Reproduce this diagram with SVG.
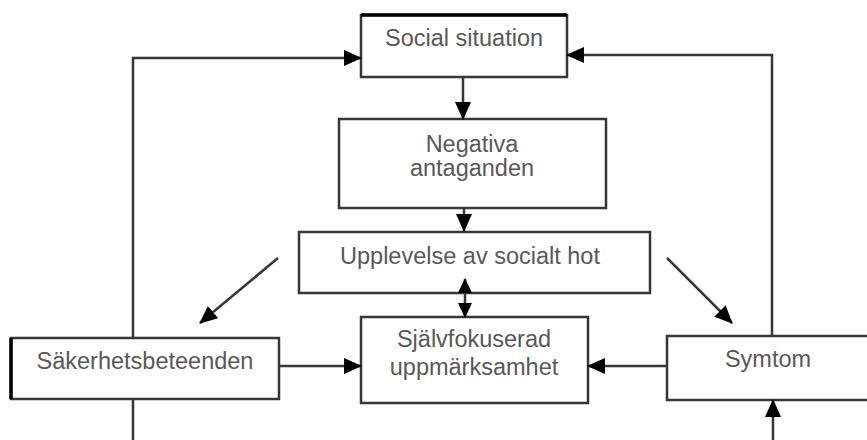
<svg xmlns="http://www.w3.org/2000/svg" width="867" height="440" viewBox="0 0 867 440">
<style>
.box{fill:#fff;stroke:#3a3636;stroke-width:2.5}
.lbl{font-family:"Liberation Sans",Arial,sans-serif;font-size:23.5px;fill:#5a5858;text-anchor:middle}
.con{fill:none;stroke:#3a3636;stroke-width:2.5}
</style>
<defs>
<marker id="ah" markerUnits="userSpaceOnUse" markerWidth="18" markerHeight="16" viewBox="0 0 18 16" refX="17" refY="8" orient="auto-start-reverse">
<path d="M0,0 L18,8 L0,16 Z" fill="#000"/>
</marker>
<marker id="ahs" markerUnits="userSpaceOnUse" markerWidth="15" markerHeight="14" viewBox="0 0 15 14" refX="14" refY="7" orient="auto-start-reverse">
<path d="M0,0 L15,7 L0,14 Z" fill="#000"/>
</marker>
</defs>
<rect width="867" height="440" fill="#fff"/>
<g id="social-situation">
<rect class="box" x="361" y="15" width="206" height="62"/>
<line x1="361" y1="15" x2="567" y2="15" stroke="#000" stroke-width="3.5"/>
<text class="lbl" x="464" y="46">Social situation</text>
</g>
<g id="negativa-antaganden">
<rect class="box" x="339" y="119" width="267" height="89"/>
<text class="lbl" x="472" y="152">Negativa</text>
<text class="lbl" x="472" y="176">antaganden</text>
</g>
<g id="upplevelse">
<rect class="box" x="299" y="232" width="351" height="61"/>
<text class="lbl" x="470" y="264">Upplevelse av socialt hot</text>
</g>
<g id="sjalvfokuserad">
<rect class="box" x="361" y="317" width="227" height="86"/>
<text class="lbl" x="474" y="347">Självfokuserad</text>
<text class="lbl" x="474" y="375">uppmärksamhet</text>
</g>
<g id="sakerhetsbeteenden">
<rect class="box" x="11" y="338" width="268" height="61"/>
<line x1="11" y1="338" x2="11" y2="399" stroke="#000" stroke-width="3.5"/>
<text class="lbl" x="145" y="369">Säkerhetsbeteenden</text>
</g>
<g id="symtom">
<rect class="box" x="667" y="336" width="210" height="64"/>
<text class="lbl" x="768" y="367">Symtom</text>
</g>
<g id="connectors">
<path class="con" d="M133,337 V58 H361" marker-end="url(#ah)"/>
<path class="con" d="M133,400 V440"/>
<path class="con" d="M772,335 V55 H567" marker-end="url(#ah)"/>
<path class="con" d="M463,78 V119" marker-end="url(#ah)"/>
<path class="con" d="M464,209 V231" marker-end="url(#ah)"/>
<path class="con" d="M465,279 V317" marker-start="url(#ahs)" marker-end="url(#ahs)"/>
<path class="con" d="M278,258 L200,323" marker-end="url(#ah)"/>
<path class="con" d="M667,258 L732,323" marker-end="url(#ah)"/>
<path class="con" d="M280,366 H361" marker-end="url(#ah)"/>
<path class="con" d="M666,366 H588" marker-end="url(#ah)"/>
<path class="con" d="M773,440 V400" marker-end="url(#ah)"/>
</g>
</svg>
